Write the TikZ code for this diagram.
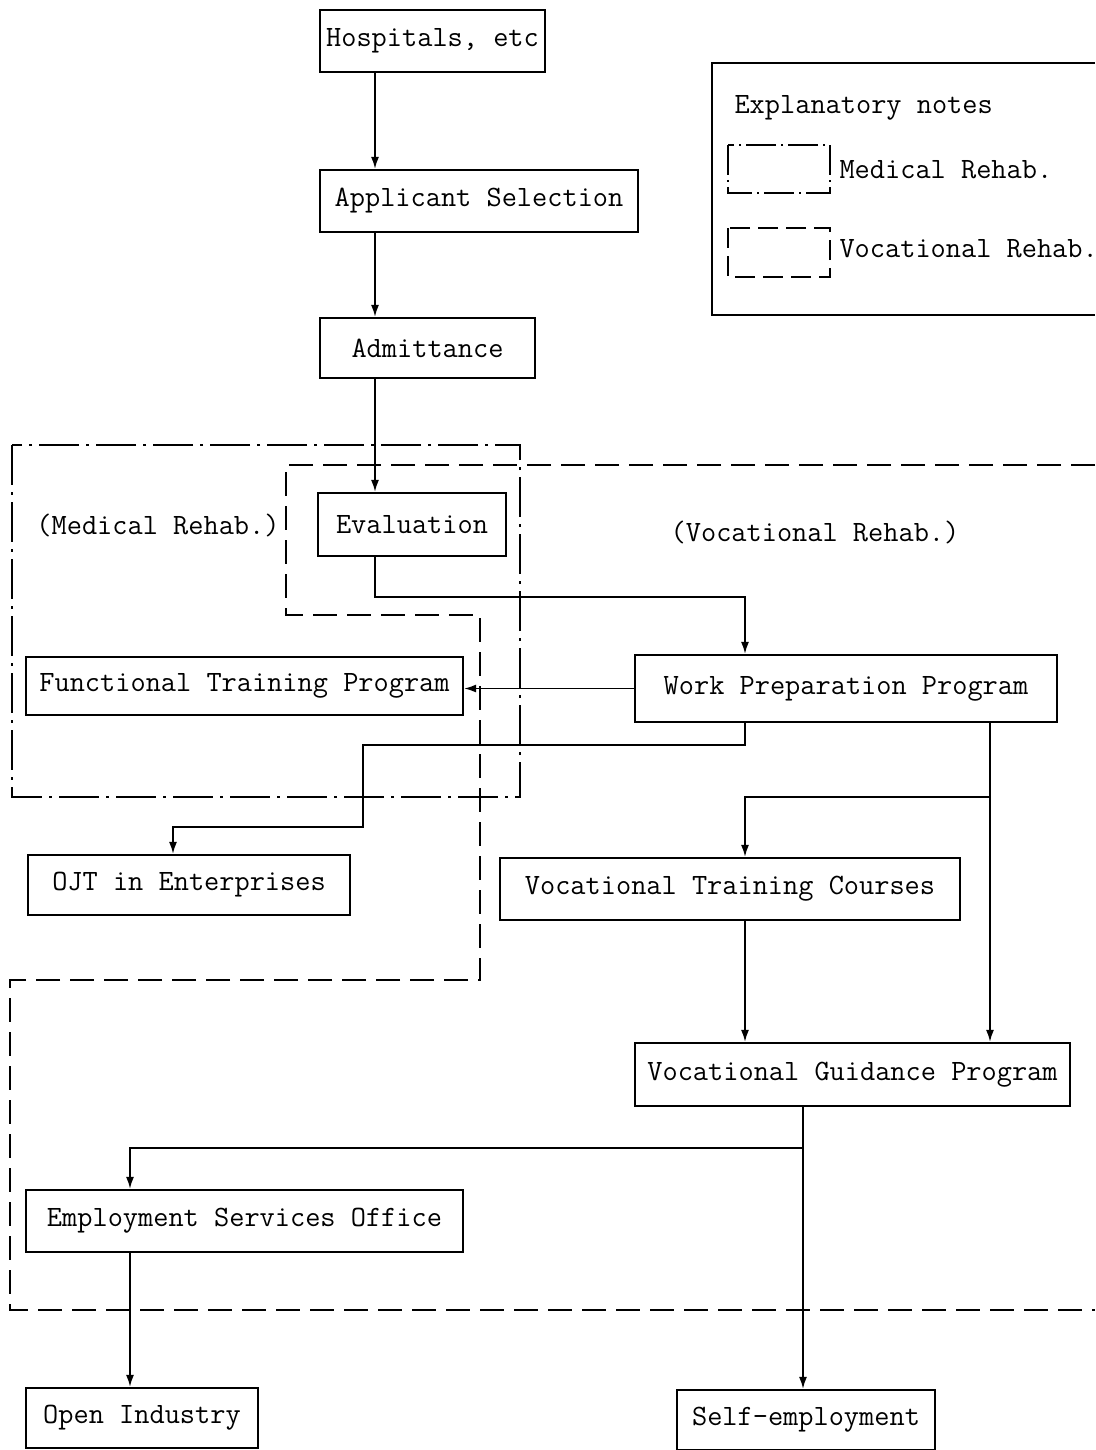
\documentclass[tikz,border=0pt]{standalone}
\usepackage{fontspec}
\setmonofont{Latin Modern Mono}
\usetikzlibrary{arrows.meta}

\begin{document}
\begin{tikzpicture}[x=1pt,y=-1pt,line cap=butt,line join=miter,
  font={\fontsize{29.5}{33}\selectfont\ttfamily},
  stagebox/.style={draw,line width=2.2pt,inner sep=0pt,align=center},
  flow/.style={line width=1.7pt,-{Latex[length=12pt,width=8pt]}},
  medline/.style={line width=1.8pt,dash pattern=on 40pt off 7pt on 3pt off 7pt},
  vocline/.style={line width=1.8pt,dash pattern=on 24pt off 10pt}]
\useasboundingbox (0,0) rectangle (1095,1450);
\clip (0,0) rectangle (1095,1450);
% stages
\node[stagebox,minimum width=225pt,minimum height=62pt] (hosp) at (432.5,41) {Hospitals, etc};
\node[stagebox,minimum width=318pt,minimum height=62pt] (appl) at (479,201) {Applicant Selection};
\node[stagebox,minimum width=215pt,minimum height=60pt] (admit) at (427.5,348) {Admittance};
\node[stagebox,minimum width=188pt,minimum height=63pt] (eval) at (412,524.5) {Evaluation};
\node[stagebox,minimum width=437pt,minimum height=58pt] (functr) at (244.5,686) {Functional Training Program};
\node[stagebox,minimum width=422pt,minimum height=67pt] (workprep) at (846,688.5) {Work Preparation Program};
\node[stagebox,minimum width=322pt,minimum height=60pt] (ojt) at (189,885) {OJT in Enterprises};
\node[stagebox,minimum width=460pt,minimum height=62pt] (voctr) at (730,889) {Vocational Training Courses};
\node[stagebox,minimum width=435pt,minimum height=63pt] (vocgd) at (852.5,1074.5) {Vocational Guidance Program};
\node[stagebox,minimum width=437pt,minimum height=62pt] (empl) at (244.5,1221) {Employment Services Office};
\node[stagebox,minimum width=232pt,minimum height=60pt] (openind) at (142,1418) {Open Industry};
\node[stagebox,minimum width=258pt,minimum height=60pt] (selfemp) at (806,1420) {Self-employment};
% rehab areas
\draw[medline] (12,445) rectangle (520,797);
\draw[vocline] (1095,465) -- (286,465) -- (286,615) -- (480,615) -- (480,980)
  -- (10,980) -- (10,1310) -- (1095,1310);
\node (medlabel) at (158,525) {(Medical Rehab.)};
\node (voclabel) at (815,532) {(Vocational Rehab.)};
% legend
\draw[line width=2pt] (1095,63) -- (712,63) -- (712,315) -- (1095,315);
\node[anchor=west] (legtitle) at (731,108) {Explanatory notes};
\draw[medline,line width=1.5pt,dash pattern=on 30pt off 5pt on 2pt off 5pt] (728,145) rectangle (830,193);
\node[anchor=west] (legmed) at (836,170) {Medical Rehab.};
\draw[vocline,line width=1.5pt,dash pattern=on 20pt off 8pt] (728,228) rectangle (830,277);
\node[anchor=west] (legvoc) at (836,249) {Vocational Rehab.};
% junctions
\coordinate (spine) at (375,0);
\coordinate (j1) at (745,597);
\coordinate (j2) at (363,745);
\coordinate (j3) at (173,827);
\coordinate (j4) at (990,797);
\coordinate (j5) at (803,1148);
\coordinate (j6) at (130,1148);
% flows
\draw[flow] (hosp.south -| spine) -- (appl.north -| spine);
\draw[flow] (appl.south -| spine) -- (admit.north -| spine);
\draw[flow] (admit.south -| spine) -- (eval.north -| spine);
\draw[flow] (eval.south -| spine) |- (j1) -- (workprep.north -| j1);
\draw[flow] (workprep.west) -- (workprep.west -| functr.east);
\draw[flow] (workprep.south -| j1) |- (j2) |- (j3) -- (ojt.north -| j3);
\draw[flow] (workprep.south -| j4) -- (vocgd.north -| j4);
\draw[flow] (j4) -| (voctr.north -| j1);
\draw[flow] (voctr.south -| j1) -- (vocgd.north -| j1);
\draw[flow] (vocgd.south -| j5) -- (selfemp.north -| j5);
\draw[flow] (j5) -- (j6) -- (empl.north -| j6);
\draw[flow] (empl.south -| j6) -- (openind.north -| j6);
\end{tikzpicture}
\end{document}
